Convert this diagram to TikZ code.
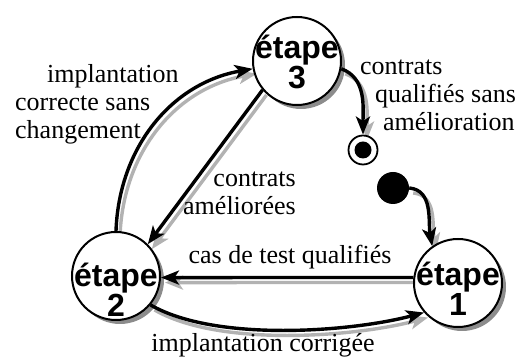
\documentclass[tikz,border=0pt]{standalone}
\usepackage{fontspec}
\setmainfont{Liberation Serif}
\setsansfont{Liberation Sans}
\usetikzlibrary{arrows.meta,backgrounds}

\newcommand\fleches{%
\draw[trans] (e3.-10) to[out=-20,in=90] (fin.north);
\draw[trans] (ini.east) to[out=-5,in=100] (e1.125);
\draw[trans] (e1.173) -- (e2.-2);
\draw[trans] (e2.-40) to[out=-30,in=195,looseness=0.7] (e1.221);
\draw[trans] (e3.220) -- (e2.45);
\draw[trans] (e2.north) to[out=88,in=190] (e3.190);
}

\begin{document}
\begin{tikzpicture}[x=1pt,y=1pt,
  etape/.style={circle, draw, line width=2pt, fill=white, minimum size=88pt, inner sep=0pt},
  nometape/.style={font=\sffamily\bfseries\fontsize{32}{30}\selectfont, align=center, inner sep=0pt},
  fin/.style={circle, draw, line width=1.8pt, fill=white, minimum size=29pt, inner sep=0pt,
    path picture={\fill[black] (path picture bounding box.center) circle (8.5pt);}},
  debut/.style={circle, fill, minimum size=32pt, inner sep=0pt},
  trans/.style={-{Stealth[length=18pt,width=14pt,inset=4.5pt]}, line width=3.4pt},
  ombre/.style={fill=black!45},
  etiq/.style={font=\fontsize{26}{28}\selectfont, inner sep=0pt}]
\useasboundingbox (0,0) rectangle (519,363);
\node[etape, label={[nometape, yshift=-1pt]center:étape\\3}] (e3) at (297,302) {};
\node[etape, label={[nometape, yshift=-14pt]center:étape\\2}] (e2) at (116,87) {};
\node[etape, label={[nometape, yshift=-6pt]center:étape\\1}] (e1) at (458,80) {};
\node[fin] (fin) at (363,213) {};
\node[debut] (ini) at (393,175) {};
\begin{scope}[on background layer]
\fill[ombre] ([shift={(4,-4)}]e3.center) circle (44);
\fill[ombre] ([shift={(4,-4)}]e2.center) circle (44);
\fill[ombre] ([shift={(4,-4)}]e1.center) circle (44);
\begin{scope}[transform canvas={shift={(4pt,-5pt)}}, color=black!30]
\fleches
\end{scope}
\fleches
\end{scope}
\node[etiq, align=left, anchor=north west] (l1) at (15,299) {\hspace*{32pt}implantation\\correcte sans\\changement};
\node[etiq, align=left, anchor=north west] (l2) at (360,303) {contrats\\\hspace*{15pt}qualifiés sans\\\hspace*{23pt}amélioration};
\node[etiq, align=right, anchor=north east] (l3) at (296,191) {contrats\\améliorées};
\node[etiq, anchor=base] (l4) at (290,99) {cas de test qualifiés};
\node[etiq, anchor=base] (l5) at (263,11) {implantation corrigée};
\end{tikzpicture}
\end{document}
